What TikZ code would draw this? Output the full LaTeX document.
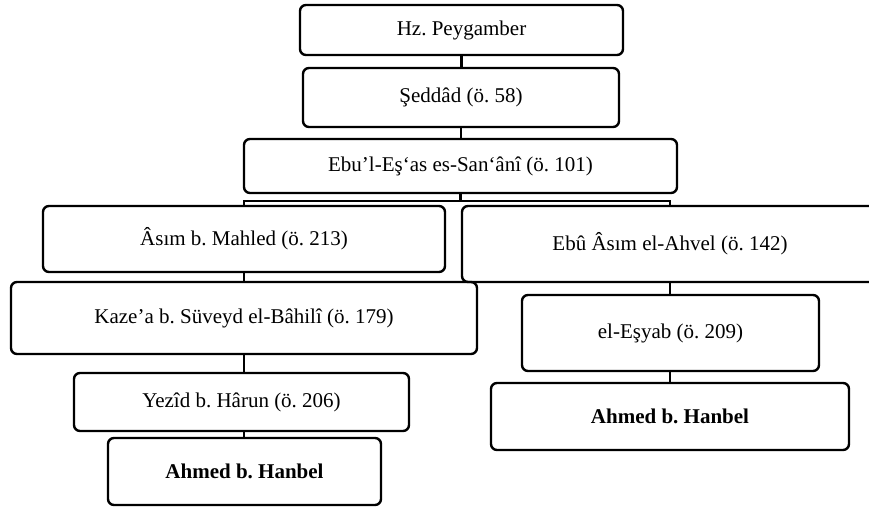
\documentclass[tikz,border=0pt]{standalone}
\usepackage{fontspec}
\setmainfont{Liberation Serif}
\begin{document}
\frenchspacing
\begin{tikzpicture}[x=1pt,y=-1pt,
  narrator/.style={draw=black, line width=2.4pt, rounded corners=6pt, rectangle,
    inner sep=0pt, align=center, font=\fontsize{21}{24}\selectfont},
  link/.style={draw=black, line width=2.4pt}]
\useasboundingbox (0,0) rectangle (869,508);
\clip (0,0) rectangle (869,508);

% central chain
\node[narrator, minimum width=323pt, minimum height=50pt] (prophet) at (461.5,30) {Hz. Peygamber};
\node[narrator, minimum width=316pt, minimum height=59pt] (seddad) at (461,97.5) {Şeddâd (ö. 58)};
\node[narrator, minimum width=433pt, minimum height=54pt] (ebuleshas) at (460.5,166) {Ebu’l-Eş‘as es-San‘ânî (ö. 101)};

% left branch
\node[narrator, minimum width=402pt, minimum height=66pt] (asim) at (244,239) {Âsım b. Mahled (ö. 213)};
\node[narrator, minimum width=466pt, minimum height=72pt] (kazea) at (244,318) {Kaze’a b. Süveyd el-Bâhilî (ö. 179)};
\node[narrator, minimum width=335pt, minimum height=58pt] (yezid) at (241.5,402) {Yezîd b. Hârun (ö. 206)};
\node[narrator, minimum width=273pt, minimum height=67pt] (ahmedL) at (244.5,471.5) {\textbf{Ahmed b. Hanbel}};

% right branch
\node[narrator, minimum width=416pt, minimum height=76pt] (ahvel) at (670,244) {Ebû Âsım el-Ahvel (ö. 142)};
\node[narrator, minimum width=297pt, minimum height=76pt] (esyab) at (670.5,333) {el-Eşyab (ö. 209)};
\node[narrator, minimum width=358pt, minimum height=67pt] (ahmedR) at (670,416.5) {\textbf{Ahmed b. Hanbel}};

% connectors
\draw[link] (prophet.south) -- (prophet.south |- seddad.north);
\draw[link] (seddad.south) -- (seddad.south |- ebuleshas.north);
\coordinate (fork) at ([yshift=-7pt]ebuleshas.south);
\draw[link] (ebuleshas.south) -- (fork);
\draw[link] (asim.north) -- (asim.north |- fork) -- (ahvel.north |- fork) -- (ahvel.north);
\draw[link] (asim.south) -- (asim.south |- kazea.north);
\draw[link] (kazea.south) -- (kazea.south |- yezid.north);
\draw[link] (yezid.south -| kazea.south) -- (kazea.south |- ahmedL.north);
\draw[link] (ahvel.south) -- (ahvel.south |- esyab.north);
\draw[link] (esyab.south -| ahvel.south) -- (ahvel.south |- ahmedR.north);
\end{tikzpicture}
\end{document}
